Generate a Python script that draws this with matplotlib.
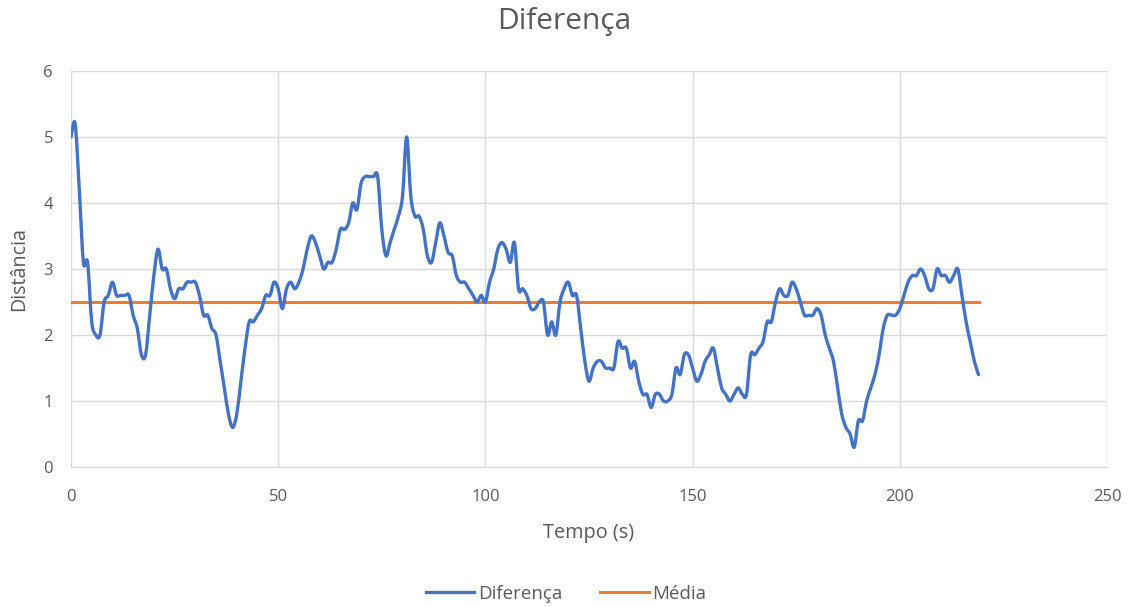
import matplotlib
matplotlib.use("Agg")
import matplotlib.pyplot as plt
from matplotlib.path import Path
from matplotlib.patches import PathPatch
from matplotlib.lines import Line2D
import numpy as np

# Time in seconds and distance difference readings
tempo = np.arange(0, 220)
diferenca = [
    5.0, 5.2, 4.2, 3.1, 3.1, 2.2, 2.0, 2.0, 2.5, 2.6,
    2.8, 2.6, 2.6, 2.6, 2.6, 2.3, 2.1, 1.7, 1.7, 2.3,
    2.9, 3.3, 3.0, 3.0, 2.7, 2.55, 2.7, 2.7, 2.8, 2.8,
    2.8, 2.6, 2.3, 2.3, 2.1, 2.0, 1.6, 1.2, 0.8, 0.6,
    0.8, 1.3, 1.8, 2.2, 2.2, 2.3, 2.4, 2.6, 2.6, 2.8,
    2.7, 2.4, 2.7, 2.8, 2.7, 2.8, 3.0, 3.3, 3.5, 3.4,
    3.2, 3.0, 3.1, 3.1, 3.3, 3.6, 3.6, 3.7, 4.0, 3.9,
    4.3, 4.4, 4.4, 4.4, 4.4, 3.6, 3.2, 3.4, 3.6, 3.8,
    4.1, 5.0, 4.1, 3.8, 3.8, 3.6, 3.2, 3.1, 3.4, 3.7,
    3.5, 3.25, 3.2, 2.9, 2.8, 2.8, 2.7, 2.6, 2.5, 2.6,
    2.5, 2.8, 3.0, 3.3, 3.4, 3.3, 3.1, 3.4, 2.7, 2.7,
    2.6, 2.4, 2.4, 2.5, 2.5, 2.0, 2.2, 2.0, 2.5, 2.7,
    2.8, 2.6, 2.6, 2.1, 1.6, 1.3, 1.5, 1.6, 1.6, 1.5,
    1.5, 1.5, 1.9, 1.8, 1.8, 1.5, 1.6, 1.3, 1.1, 1.1,
    0.9, 1.1, 1.1, 1.0, 1.0, 1.1, 1.5, 1.4, 1.7, 1.7,
    1.5, 1.3, 1.4, 1.6, 1.7, 1.8, 1.5, 1.2, 1.1, 1.0,
    1.1, 1.2, 1.1, 1.1, 1.7, 1.7, 1.8, 1.9, 2.2, 2.2,
    2.5, 2.7, 2.6, 2.6, 2.8, 2.7, 2.5, 2.3, 2.3, 2.3,
    2.4, 2.3, 2.0, 1.8, 1.6, 1.2, 0.8, 0.6, 0.5, 0.3,
    0.7, 0.7, 1.0, 1.2, 1.4, 1.7, 2.1, 2.3, 2.3, 2.3,
    2.4, 2.6, 2.8, 2.9, 2.9, 3.0, 2.9, 2.7, 2.7, 3.0,
    2.9, 2.9, 2.8, 2.9, 3.0, 2.6, 2.2, 1.9, 1.6, 1.4,
]
media = [2.5] * len(tempo)

x_ticks = [0, 50, 100, 150, 200, 250]
y_ticks = [0, 1, 2, 3, 4, 5, 6]

blue = '#4472C4'
orange = '#ED7D31'
text_color = '#595959'
grid_color = '#D9D9D9'

plt.rcParams['font.family'] = ['Open Sans', 'DejaVu Sans']


def smooth_path(x, y):
    """Cubic Bezier path through every point (Catmull-Rom tangents)."""
    pts = np.column_stack([x, y]).astype(float)
    ext = np.vstack([pts[0], pts, pts[-1]])
    verts = [pts[0]]
    codes = [Path.MOVETO]
    for i in range(len(pts) - 1):
        p0, p1, p2, p3 = ext[i], ext[i + 1], ext[i + 2], ext[i + 3]
        c1 = p1 + (p2 - p0) / 6.0
        c2 = p2 - (p3 - p1) / 6.0
        verts += [c1, c2, p2]
        codes += [Path.CURVE4] * 3
    return Path(verts, codes)


fig = plt.figure(figsize=(11.29, 6.07), dpi=100)
ax = fig.add_axes([71 / 1129, 140 / 607, (1107 - 71) / 1129, (467 - 71) / 607])

ax.add_patch(PathPatch(smooth_path(tempo, diferenca), fill=False, edgecolor=blue,
                       lw=2.4, joinstyle='round', capstyle='round', zorder=3))
ax.plot(tempo, media, color=orange, lw=2.2, zorder=2)

ax.set_xlim(0, 250)
ax.set_ylim(0, 6)
ax.set_xticks(x_ticks)
ax.set_yticks(y_ticks)
ax.grid(True, color=grid_color, lw=1)
ax.set_axisbelow(True)
for side in ['top', 'right', 'left']:
    ax.spines[side].set_visible(False)
ax.spines['bottom'].set_color(grid_color)
ax.tick_params(length=0, labelsize=12, labelcolor=text_color)
ax.tick_params(axis='x', pad=16)
ax.tick_params(axis='y', pad=13)

ax.set_xlabel('Tempo (s)', fontsize=14.3, color=text_color, labelpad=13)
ax.set_ylabel('Distância', fontsize=14.2, color=text_color, labelpad=10)
fig.text(0.5, 1 - 22 / 607, 'Diferença', fontsize=21.5, color=text_color,
         ha='center', va='center')

handles = [Line2D([], [], color=blue, lw=2.4), Line2D([], [], color=orange, lw=2.2)]
fig.legend(handles, ['Diferença', 'Média'], loc='center',
           bbox_to_anchor=(566 / 1129, 1 - 594 / 607), ncol=2, frameon=False,
           fontsize=13.5, handlelength=2.6, columnspacing=2.0, handletextpad=0.2,
           labelcolor=text_color)

fig.savefig('out.png', dpi=100, facecolor='white')
